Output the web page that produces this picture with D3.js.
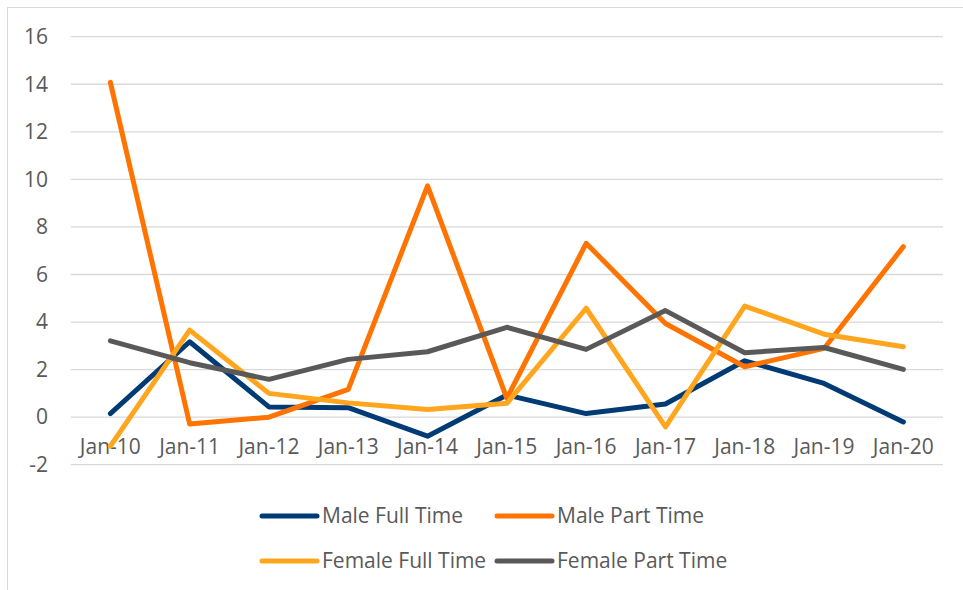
<!DOCTYPE html>
<meta charset="utf-8">
<style>
body { margin: 0; background: #fff; }
svg { display: block; font-family: 'Open Sans', sans-serif; }
.grid line { stroke: #d9d9d9; stroke-width: 1.3px; }
.lbl { fill: #595959; font-size: 21px; }
.line { fill: none; stroke-width: 5px; stroke-linejoin: round; stroke-linecap: round; }
</style>
<body>
<script src="https://d3js.org/d3.v7.min.js"></script>
<script>

// categories and series
var months = ["Jan-10", "Jan-11", "Jan-12", "Jan-13", "Jan-14", "Jan-15",
              "Jan-16", "Jan-17", "Jan-18", "Jan-19", "Jan-20"];
var maleFull     = [0.15, 3.17, 0.43, 0.40, -0.80, 0.93, 0.15, 0.55, 2.37, 1.42, -0.20];
var malePart     = [14.08, -0.29, 0.0, 1.17, 9.73, 0.79, 7.31, 3.94, 2.12, 2.89, 7.17];
var femaleFull   = [-1.22, 3.66, 1.0, 0.60, 0.32, 0.58, 4.58, -0.41, 4.67, 3.49, 2.96];
var femalePart   = [3.21, 2.29, 1.59, 2.43, 2.75, 3.78, 2.85, 4.48, 2.71, 2.93, 2.01];
var yTicks = [-2, 0, 2, 4, 6, 8, 10, 12, 14, 16];

var series = [
  {name: "Male Full Time",     values: maleFull,   color: "#003b75"},
  {name: "Male Part Time",     values: malePart,   color: "#ff7300"},
  {name: "Female Full Time",   values: femaleFull, color: "#ffa51e"},
  {name: "Female Part Time",   values: femalePart, color: "#595959"}
];

var W = 963, H = 590;
var plot = {left: 70.7, right: 943, top: 36.7, bottom: 464.7};

var svg = d3.select("body").append("svg")
    .attr("width", W)
    .attr("height", H);

// chart border
svg.append("rect")
    .attr("x", 7.5).attr("y", 7.5)
    .attr("width", W).attr("height", H)
    .attr("fill", "#fff")
    .attr("stroke", "#d9d9d9");

var x = d3.scalePoint().domain(months).range([plot.left, plot.right]).padding(0.5);
var y = d3.scaleLinear().domain([-2, 16]).range([plot.bottom, plot.top]);

// gridlines
svg.append("g")
    .attr("class", "grid")
  .selectAll("line")
  .data(yTicks)
  .enter().append("line")
    .attr("x1", plot.left).attr("x2", plot.right)
    .attr("y1", function(d) { return y(d); })
    .attr("y2", function(d) { return y(d); });

// y labels
svg.append("g").selectAll("text")
  .data(yTicks)
  .enter().append("text")
    .attr("class", "lbl")
    .attr("x", 48)
    .attr("y", function(d) { return y(d); })
    .attr("dy", "0.35em")
    .attr("text-anchor", "end")
    .text(function(d) { return d; });

// x labels (sit just below the zero line, like excel)
svg.append("g").selectAll("text")
  .data(months)
  .enter().append("text")
    .attr("class", "lbl")
    .attr("x", function(d) { return x(d); })
    .attr("y", 447)
    .attr("dy", "0.35em")
    .attr("text-anchor", "middle")
    .text(function(d) { return d; });

var line = d3.line()
    .x(function(d, i) { return x(months[i]); })
    .y(function(d) { return y(d); });

svg.append("g").selectAll("path")
  .data(series)
  .enter().append("path")
    .attr("class", "line")
    .attr("stroke", function(d) { return d.color; })
    .attr("d", function(d) { return line(d.values); });

// legend, 2 columns
var legendPos = [[262, 516], [497, 516], [262, 561], [497, 561]];
var leg = svg.append("g").selectAll("g")
  .data(series)
  .enter().append("g")
    .attr("transform", function(d, i) { return "translate(" + legendPos[i][0] + "," + legendPos[i][1] + ")"; });

leg.append("line")
    .attr("x1", 0).attr("x2", 55)
    .attr("stroke", function(d) { return d.color; })
    .attr("stroke-width", 5)
    .attr("stroke-linecap", "round");

leg.append("text")
    .attr("class", "lbl")
    .attr("x", 60)
    .attr("dy", "0.35em")
    .text(function(d) { return d.name; });

</script>
</body>
